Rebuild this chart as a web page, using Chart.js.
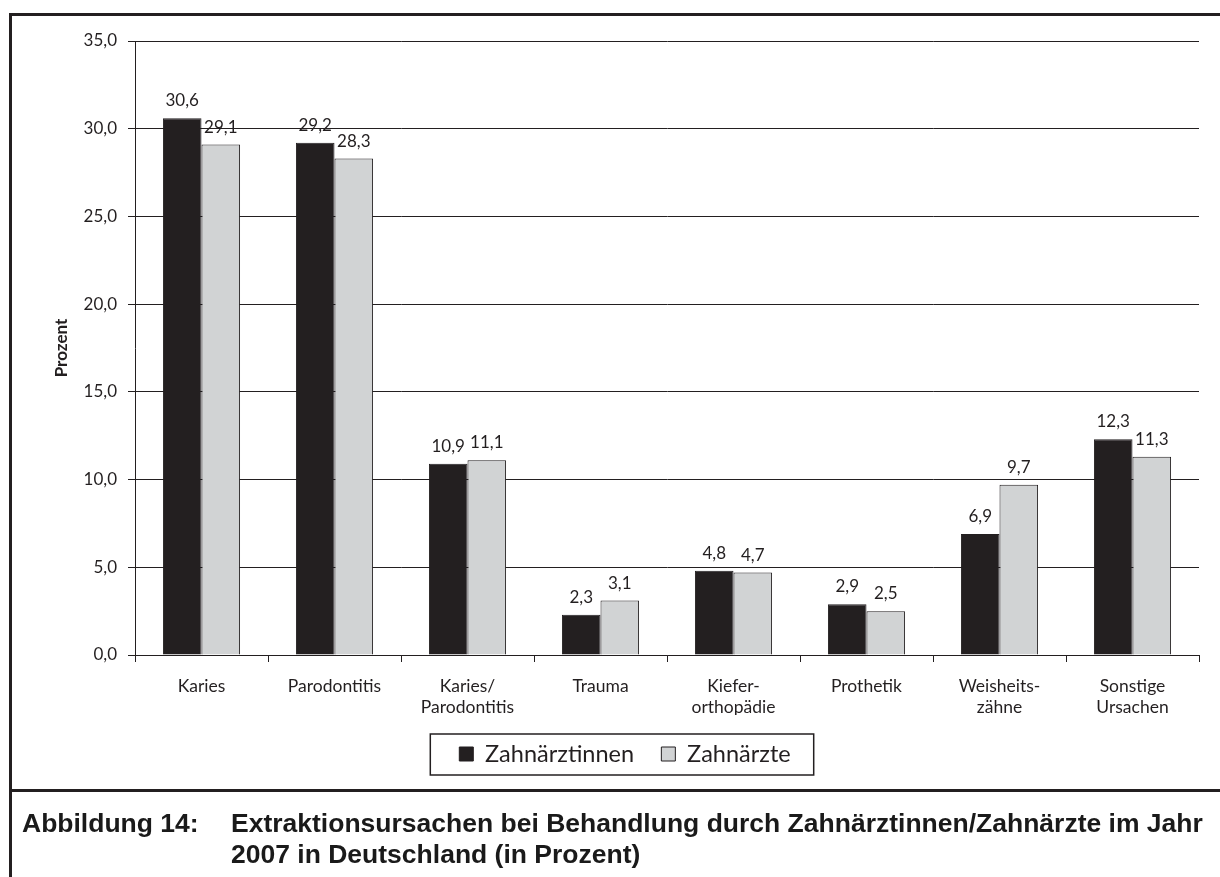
<!DOCTYPE html>
<html>
<head>
<meta charset="utf-8">
<script src="https://cdn.jsdelivr.net/npm/chart.js@4/dist/chart.umd.min.js"></script>
<style>
  body { margin: 0; background: #fff; width: 1220px; height: 877px; overflow: hidden; position: relative; }
  #chart { position: absolute; left: 0; top: 0; }
  #frame { position: absolute; left: 9px; top: 13px; width: 1300px; height: 900px;
           border-left: 3px solid #231f20; border-top: 3px solid #231f20; }
  #divider { position: absolute; left: 9px; top: 789px; width: 1220px; height: 3px; background: #231f20; }
  .cap { position: absolute; font-family: "Liberation Sans", Arial, sans-serif; font-weight: bold;
         font-size: 26.5px; line-height: 26.5px; color: #1a1a1a; white-space: nowrap; }
</style>
</head>
<body>
<canvas id="chart" width="1220" height="800"></canvas>
<div id="frame"></div>
<div id="divider"></div>
<div class="cap" style="left:22px;top:810px">Abbildung 14:</div>
<div class="cap" style="left:231px;top:810px">Extraktionsursachen bei Behandlung durch Zahnärztinnen/Zahnärzte im Jahr</div>
<div class="cap" style="left:231px;top:841px">2007 in Deutschland (in Prozent)</div>
<script>
const categories = [
  ["Karies"],
  ["Parodontitis"],
  ["Karies/", "Parodontitis"],
  ["Trauma"],
  ["Kiefer-", "orthopädie"],
  ["Prothetik"],
  ["Weisheits-", "zähne"],
  ["Sonstige", "Ursachen"]
];
const zahnaerztinnen = [30.6, 29.2, 10.9, 2.3, 4.8, 2.9, 6.9, 12.3];
const zahnaerzte = [29.1, 28.3, 11.1, 3.1, 4.7, 2.5, 9.7, 11.3];
const seriesNames = ["Zahnärztinnen", "Zahnärzte"];
const yMax = 35;
const yStep = 5;

const ink = "#231f20";
const font = "Lato";

function fmt(v) {
  return v.toFixed(1).replace(".", ",");
}

// value labels above each bar
const valueLabels = {
  id: "valueLabels",
  afterDatasetsDraw(chart) {
    const ctx = chart.ctx;
    ctx.save();
    ctx.font = "17px " + font;
    ctx.fillStyle = ink;
    ctx.textAlign = "center";
    ctx.textBaseline = "alphabetic";
    chart.data.datasets.forEach((ds, i) => {
      chart.getDatasetMeta(i).data.forEach((bar, j) => {
        ctx.fillText(fmt(ds.data[j]), bar.x, bar.y - 12);
      });
    });
    ctx.restore();
  }
};

// frame round the legend
const legendFrame = {
  id: "legendFrame",
  afterDraw(chart) {
    const boxes = chart.legend.legendHitBoxes;
    if (!boxes || !boxes.length) return;
    const first = boxes[0];
    const last = boxes[boxes.length - 1];
    const left = first.left - 29;
    const right = last.left + last.width + 23;
    const mid = first.top + first.height / 2;
    const ctx = chart.ctx;
    ctx.save();
    ctx.strokeStyle = ink;
    ctx.lineWidth = 1.5;
    ctx.strokeRect(left, mid - 20, right - left, 41);
    ctx.restore();
  }
};

new Chart(document.getElementById("chart"), {
  type: "bar",
  data: {
    labels: categories,
    datasets: [
      {
        label: seriesNames[0],
        data: zahnaerztinnen,
        backgroundColor: ink,
        borderColor: ink,
        borderWidth: 1
      },
      {
        label: seriesNames[1],
        data: zahnaerzte,
        backgroundColor: "#d1d3d4",
        borderColor: ink,
        borderWidth: 1
      }
    ]
  },
  options: {
    responsive: false,
    animation: false,
    devicePixelRatio: 1,
    layout: { padding: { left: 51, right: 21, top: 41, bottom: 24.25 } },
    datasets: {
      bar: { categoryPercentage: 0.58, barPercentage: 1 }
    },
    plugins: {
      tooltip: { enabled: false },
      legend: {
        position: "bottom",
        labels: {
          font: { family: font, size: 23.5 },
          color: ink,
          boxWidth: 14,
          boxHeight: 14,
          padding: 27.25
        }
      }
    },
    scales: {
      x: {
        afterFit(scale) { scale.height = 60; },
        grid: {
          drawOnChartArea: false,
          drawTicks: true,
          tickLength: 7,
          color: ink,
          offset: true
        },
        border: { display: true, color: ink, width: 1 },
        ticks: {
          font: { family: font, size: 17.5 },
          color: ink,
          padding: 14,
          maxRotation: 0,
          autoSkip: false
        }
      },
      y: {
        min: 0,
        max: yMax,
        afterFit(scale) { scale.width = 84; },
        grid: { color: ink, lineWidth: 1, tickLength: 7, drawTicks: true },
        border: { display: true, color: ink, width: 1 },
        ticks: {
          stepSize: yStep,
          font: { family: font, size: 17 },
          color: ink,
          padding: 11,
          callback: v => fmt(v)
        },
        title: {
          display: true,
          text: "Prozent",
          font: { family: font, size: 17, weight: "bold" },
          color: ink,
          padding: 0
        }
      }
    }
  },
  plugins: [valueLabels, legendFrame]
});
</script>
</body>
</html>
